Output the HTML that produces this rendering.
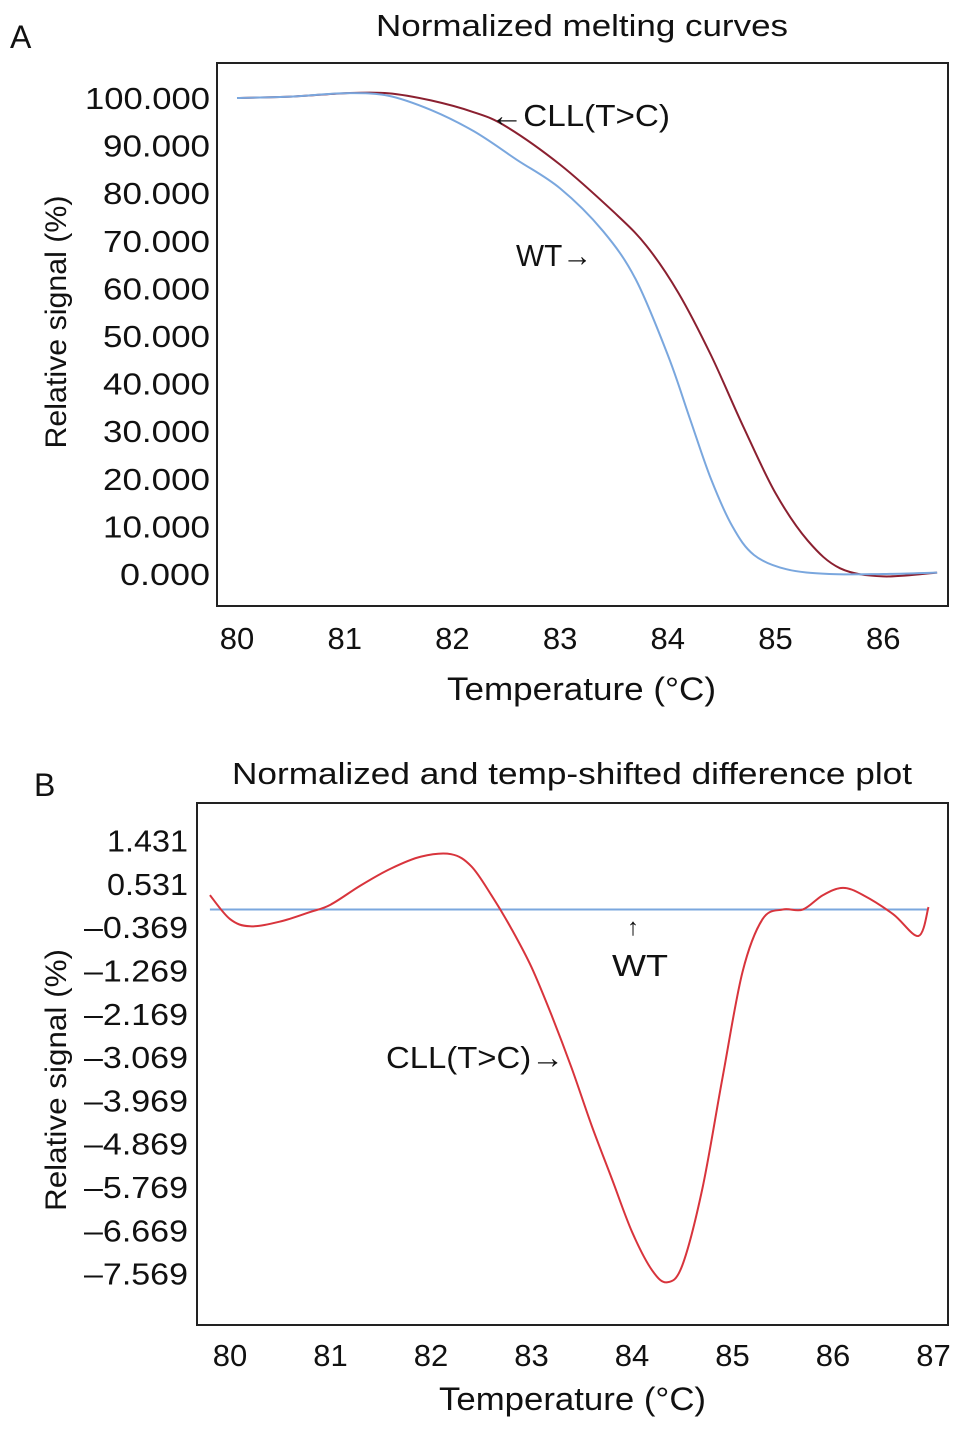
<!DOCTYPE html>
<html><head><meta charset="utf-8"><style>
html,body{margin:0;padding:0;background:#fff;}
svg text{font-family:"Liberation Sans",sans-serif;fill:#111;}
</style></head><body>
<svg id="fig" width="969" height="1431" viewBox="0 0 969 1431" xmlns="http://www.w3.org/2000/svg">
<text x="10" y="48" font-size="32">A</text>
<text x="376" y="36" font-size="31" textLength="412" lengthAdjust="spacingAndGlyphs">Normalized melting curves</text>
<rect x="217" y="63" width="731" height="543" fill="none" stroke="#222" stroke-width="2"/>
<text transform="translate(66,322) rotate(-90)" font-size="30" text-anchor="middle" textLength="253" lengthAdjust="spacingAndGlyphs">Relative signal (%)</text>
<text x="447" y="700" font-size="32" textLength="269" lengthAdjust="spacingAndGlyphs">Temperature (°C)</text>
<g id="aTicks"></g><g id="aLines"></g>
<text x="490" y="126" font-size="31" textLength="180" lengthAdjust="spacingAndGlyphs">←CLL(T&gt;C)</text>
<text x="516" y="266" font-size="31" textLength="76" lengthAdjust="spacingAndGlyphs">WT→</text>

<text x="34" y="796" font-size="32">B</text>
<text x="232" y="784" font-size="31" textLength="680" lengthAdjust="spacingAndGlyphs">Normalized and temp-shifted difference plot</text>
<rect x="197" y="803" width="751" height="522" fill="none" stroke="#222" stroke-width="2"/>
<text transform="translate(66,1080) rotate(-90)" font-size="30" text-anchor="middle" textLength="262" lengthAdjust="spacingAndGlyphs">Relative signal (%)</text>
<text x="439" y="1410" font-size="32" textLength="267" lengthAdjust="spacingAndGlyphs">Temperature (°C)</text>
<g id="bTicks"></g><g id="bLines"></g>
<text x="633" y="935" font-size="24" text-anchor="middle">↑</text>
<text x="612" y="976" font-size="31" textLength="56" lengthAdjust="spacingAndGlyphs">WT</text>
<text x="386" y="1068" font-size="31" textLength="178" lengthAdjust="spacingAndGlyphs">CLL(T&gt;C)→</text>
</svg>
<script>
const aXTicks=[80,81,82,83,84,85,86];
const aYTicks=[100,90,80,70,60,50,40,30,20,10,0];
const aTemps=[80,80.5,81,81.4,81.8,82.2,82.5,83,83.5,83.8,84.1,84.4,84.7,85,85.3,85.6,86,86.5];
const aCLL=[100,100.3,101,101,99.5,97,94,86,76,69,59,46,31,17,7,1.2,-0.5,0.3];
const aWTtemps=[80,80.5,81,81.4,81.8,82.2,82.6,83,83.4,83.7,84,84.2,84.4,84.6,84.8,85.1,85.5,86,86.5];
const aWT=[100,100.3,101,100.5,97.5,93,87,81,72,62,46,33,20,10,4,1,0,0,0.3];
const bXTicks=[80,81,82,83,84,85,86,87];
const bYTicks=[1.431,0.531,-0.369,-1.269,-2.169,-3.069,-3.969,-4.869,-5.769,-6.669,-7.569];
const bTemps=[79.8,80,80.2,80.5,80.8,81,81.3,81.6,81.9,82.2,82.4,82.6,82.8,83,83.2,83.4,83.6,83.8,84,84.2,84.35,84.5,84.7,84.9,85.1,85.3,85.5,85.7,85.9,86.1,86.3,86.6,86.85,86.95];
const bCLL=[0.3,-0.2,-0.35,-0.25,-0.05,0.1,0.5,0.85,1.1,1.15,0.9,0.3,-0.4,-1.2,-2.2,-3.3,-4.5,-5.6,-6.7,-7.5,-7.75,-7.4,-5.8,-3.5,-1.3,-0.2,0,0,0.3,0.45,0.3,-0.1,-0.55,0.05];
const bWTtemps=[79.8,86.95];
const bWT=[0,0];
const NS="http://www.w3.org/2000/svg";
const ax=t=>237+(t-80)*107.7, ay=v=>574-v*4.76;
const bx=t=>230+(t-80)*100.5, by=v=>909.5-v*48.1;
function mk(tag,attrs,parent){const e=document.createElementNS(NS,tag);for(const k in attrs)e.setAttribute(k,attrs[k]);document.getElementById(parent).appendChild(e);return e;}
aXTicks.forEach(t=>{const e=mk('text',{x:ax(t),y:649,'font-size':31,'text-anchor':'middle'},'aTicks');e.textContent=t;

});
aYTicks.forEach(v=>{const s=v.toFixed(3);const e=mk('text',{x:210,y:ay(v)+11,'font-size':31,'text-anchor':'end',textLength:(s.length*17.9).toFixed(0),lengthAdjust:'spacingAndGlyphs'},'aTicks');e.textContent=s;

});
bXTicks.forEach(t=>{const e=mk('text',{x:bx(t),y:1366,'font-size':31,'text-anchor':'middle'},'bTicks');e.textContent=t;

});
bYTicks.forEach(v=>{const s=(v<0?'\u2013'+Math.abs(v).toFixed(3):v.toFixed(3));const e=mk('text',{x:188,y:by(v)+11,'font-size':31,'text-anchor':'end',textLength:(v<0?104:81),lengthAdjust:'spacingAndGlyphs'},'bTicks');e.textContent=s;

});
function path(xs,ys,fx,fy){const P=xs.map((t,i)=>[fx(t),fy(ys[i])]);let d='M'+P[0][0].toFixed(1)+' '+P[0][1].toFixed(1);
for(let i=0;i<P.length-1;i++){const p0=P[Math.max(0,i-1)],p1=P[i],p2=P[i+1],p3=P[Math.min(P.length-1,i+2)];
const c1=[p1[0]+(p2[0]-p0[0])/6,p1[1]+(p2[1]-p0[1])/6],c2=[p2[0]-(p3[0]-p1[0])/6,p2[1]-(p3[1]-p1[1])/6];
d+=' C'+c1.map(n=>n.toFixed(1)).join(' ')+' '+c2.map(n=>n.toFixed(1)).join(' ')+' '+p2[0].toFixed(1)+' '+p2[1].toFixed(1);}return d;}
let p=mk('path',{d:path(aTemps,aCLL,ax,ay),fill:'none',stroke:'#8b2030','stroke-width':2},'aLines');


p=mk('path',{d:path(aWTtemps,aWT,ax,ay),fill:'none',stroke:'#7aa7de','stroke-width':2},'aLines');


p=mk('path',{d:path(bWTtemps,bWT,bx,by),fill:'none',stroke:'#7aa7de','stroke-width':2},'bLines');


p=mk('path',{d:path(bTemps,bCLL,bx,by),fill:'none',stroke:'#d8343c','stroke-width':2},'bLines');


</script>
</body></html>
